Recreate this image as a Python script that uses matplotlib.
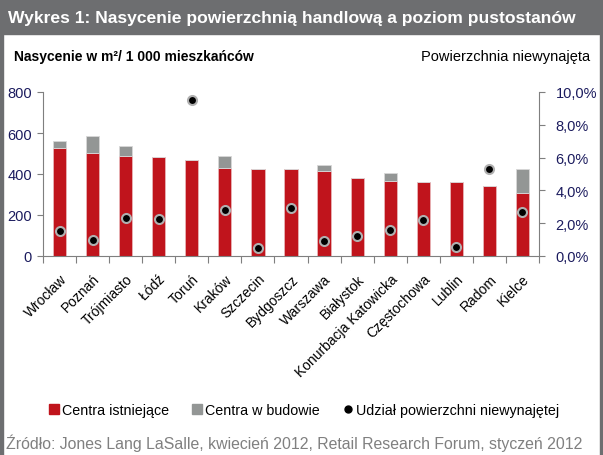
import matplotlib.pyplot as plt
from matplotlib.patches import Rectangle
from matplotlib.lines import Line2D
from matplotlib.ticker import FuncFormatter
import numpy as np

plt.rcParams['font.family'] = ['Liberation Sans', 'DejaVu Sans']

cities = ["Wrocław", "Poznań", "Trójmiasto", "Łódź", "Toruń", "Kraków", "Szczecin",
          "Bydgoszcz", "Warszawa", "Białystok", "Konurbacja Katowicka", "Częstochowa",
          "Lublin", "Radom", "Kielce"]
existing = [528, 504, 486, 484, 466, 429, 423, 423, 416, 380, 367, 362, 359, 343, 309]
total_incl_building = [562, 587, 535, 484, 466, 488, 423, 423, 444, 380, 405, 362, 359, 343, 423]
vacancy = [1.5, 1.0, 2.3, 2.25, 9.5, 2.8, 0.5, 2.9, 0.9, 1.2, 1.6, 2.2, 0.55, 5.3, 2.7]

building = [t - e for t, e in zip(total_incl_building, existing)]

RED = "#c0141c"
GRAY = "#939695"
NAVY = "#1b1b5e"
BAND = "#6d6e70"

fig = plt.figure(figsize=(6.03, 4.56), dpi=100)

# frame: title band + thin side borders
fig.patches.append(Rectangle((0, 1 - 35/456), 1, 35/456, transform=fig.transFigure,
                             color=BAND, zorder=0))
fig.patches.append(Rectangle((0, 0), 2.5/603, 1, transform=fig.transFigure, color=BAND, zorder=0))
fig.patches.append(Rectangle((600/603, 0), 3/603, 1, transform=fig.transFigure, color=BAND, zorder=0))

fig.text(8/603, 1 - 18/456, "Wykres 1: Nasycenie powierzchnią handlową a poziom pustostanów",
         color="white", fontsize=12.6, fontweight="bold", va="center", ha="left")

ax = fig.add_axes([43/603, 1 - 257/456, 496/603, 164/456])
x = np.arange(len(cities))
ax.bar(x, existing, width=0.4, color=RED, edgecolor="#e8b4b6", linewidth=0.6, zorder=2)
ax.bar(x, building, width=0.4, bottom=existing, color=GRAY, edgecolor="#d8d8d8",
       linewidth=0.6, zorder=2)
ax.set_ylim(0, 800)
ax.set_xlim(-0.5, len(cities) - 0.5)
ax.set_yticks([0, 200, 400, 600, 800])
ax.set_xticks(np.arange(-0.5, len(cities), 1.0))
ax.set_xticks(x, minor=True)
ax.set_xticklabels([])
ax.set_xticklabels(cities, minor=True, rotation=45, ha="right", rotation_mode="anchor",
                   fontsize=10)
ax.tick_params(axis="x", which="minor", length=0, pad=11)
ax.tick_params(axis="x", which="major", length=5, color="#7f7f7f", direction="out")
ax.tick_params(axis="y", length=4, color="#7f7f7f", labelsize=10.5, labelcolor=NAVY, pad=4)
for s in ["top", "right"]:
    ax.spines[s].set_visible(False)
for s in ["left", "bottom"]:
    ax.spines[s].set_color("#7f7f7f")

ax2 = ax.twinx()
ax2.scatter(x, vacancy, s=42, color="black", edgecolor="#b0b0b0", linewidth=1.5, zorder=3)
ax2.set_ylim(0, 10)
ax2.set_yticks([0, 2, 4, 6, 8, 10])
ax2.yaxis.set_major_formatter(FuncFormatter(lambda v, p: f"{v:.1f}%".replace(".", ",")))
ax2.tick_params(axis="y", length=4, color="#7f7f7f", labelsize=10.5, labelcolor=NAVY, pad=8)
for s in ["top", "left", "bottom"]:
    ax2.spines[s].set_visible(False)
ax2.spines["right"].set_color("#7f7f7f")

fig.text(14/603, 1 - 57/456, "Nasycenie w m²/ 1 000 mieszkańców", fontsize=10,
         fontweight="bold", va="center", ha="left", color="black")
fig.text(590/603, 1 - 57/456, "Powierzchnia niewynajęta", fontsize=10.5,
         va="center", ha="right", color="black")

handles = [
    Rectangle((0, 0), 1, 1, color=RED),
    Rectangle((0, 0), 1, 1, color=GRAY),
    Line2D([], [], marker="o", linestyle="none", color="black", markersize=5),
]
fig.legend(handles, ["Centra istniejące", "Centra w budowie", "Udział powierzchni niewynajętej"],
           loc="center", bbox_to_anchor=(304/603, 1 - 411/456), ncol=3, frameon=False,
           fontsize=10.3, handlelength=0.7, handleheight=0.7, handletextpad=0.2,
           columnspacing=1.6)

fig.text(6/603, 1 - 443/456,
         "Źródło: Jones Lang LaSalle, kwiecień 2012, Retail Research Forum, styczeń 2012",
         fontsize=11.4, color="#808080", va="center", ha="left")

fig.savefig("out.png", dpi=100)
